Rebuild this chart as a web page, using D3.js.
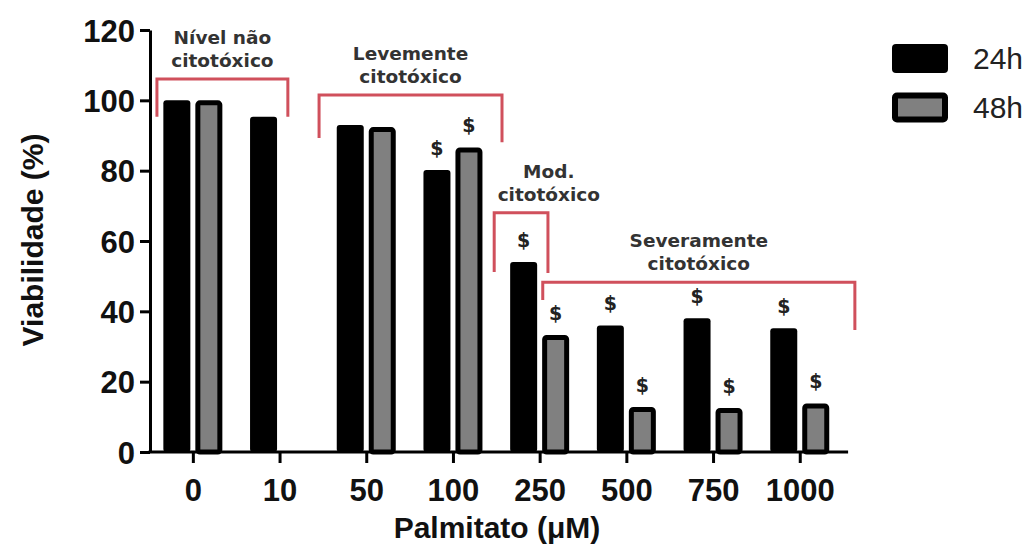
<!DOCTYPE html>
<html>
<head>
<meta charset="utf-8">
<script src="https://cdn.jsdelivr.net/npm/d3@7.9.0/dist/d3.min.js"></script>
<style>
  body { margin: 0; background: #fff; }
  svg { display: block; }
  .tick text { font-family: "Liberation Sans", Arial, sans-serif; font-weight: bold; fill: #111; }
</style>
</head>
<body>
<svg id="chart" width="1036" height="551"></svg>
<script>
// ---- data ----
const concentrations = ['0', '10', '50', '100', '250', '500', '750', '1000'];
const series = ['24h', '48h'];
const viab24 = [100, 95.3, 93, 80.2, 54, 36, 38, 35.2];
const viab48 = [100, null, 92.4, 86.6, 33.3, 12.8, 12.5, 13.8];
const sig24 = [false, false, false, true, true, true, true, true];
const sig48 = [false, false, false, true, true, true, true, true];
const yTicks = [0, 20, 40, 60, 80, 100, 120];

// bracket annotations: x in "band units" (0 = left edge of first group), y in % units
const bracketLabels = [['Nível não', 'citotóxico'], ['Levemente', 'citotóxico'], ['Mod.', 'citotóxico'], ['Severamente', 'citotóxico']];
const bracketFrom = [0.08, 1.95, 3.97, 4.53];
const bracketTo = [1.59, 4.06, 4.59, 8.13];
const bracketTop = [106.1, 101.5, 68.0, 48.3];
const bracketLeftLeg = [95.3, 89.3, 51.2, 43.2];
const bracketRightLeg = [95.3, 88.1, 50.9, 34.7];
const bracketTextAt = [null, null, 4.6, null];

const svg = d3.select('#chart');
const red = '#d0505c';

// scales
const x = d3.scaleBand().domain(concentrations).range([150, 843.6]);
const xSub = d3.scaleBand().domain(series).range([-30, 29]).paddingInner(0.156);
const bandUnit = d3.scaleLinear().domain([0, concentrations.length]).range(x.range());
const y = d3.scaleLinear().domain([0, 120]).range([452, 30]);
const cx = c => x(c) + x.bandwidth() / 2;

// bars
const rows = concentrations.map((c, i) => ({ c, v24: viab24[i], v48: viab48[i], s24: sig24[i], s48: sig48[i] }));
const g = svg.append('g');

rows.forEach(d => {
  if (d.v24 != null) {
    g.append('rect')
      .attr('x', cx(d.c) + xSub('24h'))
      .attr('y', y(d.v24))
      .attr('width', xSub.bandwidth())
      .attr('height', y(0) - y(d.v24))
      .attr('rx', 3)
      .attr('fill', '#000');
  }
  if (d.v48 != null) {
    const sw = 5;
    g.append('rect')
      .attr('x', cx(d.c) + xSub('48h') + sw / 2)
      .attr('y', y(d.v48) + sw / 2)
      .attr('width', xSub.bandwidth() - sw)
      .attr('height', y(0) - y(d.v48) - sw / 2)
      .attr('rx', 2)
      .attr('fill', '#808080')
      .attr('stroke', '#000')
      .attr('stroke-width', sw);
  }
});

// significance marks
const sigText = (xPos, v) => svg.append('text')
  .attr('x', xPos).attr('y', y(v) - 15)
  .attr('text-anchor', 'middle')
  .attr('font-family', '"DejaVu Sans", sans-serif')
  .attr('font-weight', 'bold').attr('font-size', 19)
  .attr('fill', '#222').text('$');

rows.forEach(d => {
  if (d.s24 && d.v24 != null) sigText(cx(d.c) + xSub('24h') + xSub.bandwidth() / 2, d.v24);
  if (d.s48 && d.v48 != null) sigText(cx(d.c) + xSub('48h') + xSub.bandwidth() / 2, d.v48);
});

// axes
const yAxis = svg.append('g')
  .attr('transform', `translate(${x.range()[0]},0)`)
  .call(d3.axisLeft(y).tickValues(yTicks).tickSize(10).tickSizeOuter(0).tickPadding(5));
yAxis.select('.domain').attr('stroke-width', 3);
yAxis.selectAll('.tick line').attr('stroke-width', 3);
yAxis.selectAll('.tick text').attr('font-size', 31).attr('dy', '0.36em');

const xAxis = svg.append('g')
  .attr('transform', `translate(0,${y(0)})`)
  .call(d3.axisBottom(x).tickSize(11).tickSizeOuter(0).tickPadding(10));
xAxis.select('.domain').remove();
xAxis.selectAll('.tick line').attr('stroke-width', 3);
xAxis.selectAll('.tick text').attr('font-size', 31).attr('dy', '0.9em');
svg.append('line')
  .attr('x1', x.range()[0] - 1.5).attr('x2', x.range()[1] + 4.5)
  .attr('y1', y(0)).attr('y2', y(0))
  .attr('stroke', '#000').attr('stroke-width', 3);

// axis titles
svg.append('text')
  .attr('x', 497).attr('y', 538)
  .attr('text-anchor', 'middle')
  .attr('font-family', '"Liberation Sans", Arial, sans-serif')
  .attr('font-weight', 'bold').attr('font-size', 30).attr('fill', '#111')
  .text('Palmitato (μM)');

svg.append('text')
  .attr('transform', 'translate(43,240) rotate(-90)')
  .attr('text-anchor', 'middle')
  .attr('font-family', '"Liberation Sans", Arial, sans-serif')
  .attr('font-weight', 'bold').attr('font-size', 30).attr('fill', '#111')
  .text('Viabilidade (%)');

// brackets
bracketLabels.forEach((lines, i) => {
  const x0 = bandUnit(bracketFrom[i]), x1 = bandUnit(bracketTo[i]);
  const top = y(bracketTop[i]);
  const path = d3.path();
  path.moveTo(x0, y(bracketLeftLeg[i]));
  path.lineTo(x0, top);
  path.lineTo(x1, top);
  path.lineTo(x1, y(bracketRightLeg[i]));
  svg.append('path').attr('d', path.toString())
    .attr('fill', 'none').attr('stroke', red).attr('stroke-width', 3);

  const tx = bracketTextAt[i] != null ? bandUnit(bracketTextAt[i]) : (x0 + x1) / 2;
  lines.forEach((t, k) => {
    svg.append('text')
      .attr('x', tx).attr('y', top - 35 + k * 23)
      .attr('text-anchor', 'middle')
      .attr('font-family', '"DejaVu Sans", sans-serif')
      .attr('font-weight', 'bold').attr('font-size', 18.5).attr('fill', '#333')
      .text(t);
  });
});

// legend
const legend = svg.append('g').attr('transform', 'translate(892,44)');
series.forEach((s, i) => {
  const row = legend.append('g').attr('transform', `translate(0,${i * 48.5})`);
  if (i === 0) {
    row.append('rect').attr('width', 56).attr('height', 29).attr('rx', 4).attr('fill', '#000');
  } else {
    row.append('rect').attr('x', 3).attr('y', 3).attr('width', 50).attr('height', 24).attr('rx', 2)
      .attr('fill', '#808080').attr('stroke', '#000').attr('stroke-width', 6);
  }
  row.append('text')
    .attr('x', 81).attr('y', 25)
    .attr('font-family', '"Liberation Sans", Arial, sans-serif')
    .attr('font-size', 30).attr('fill', '#222')
    .text(s);
});
</script>
</body>
</html>
